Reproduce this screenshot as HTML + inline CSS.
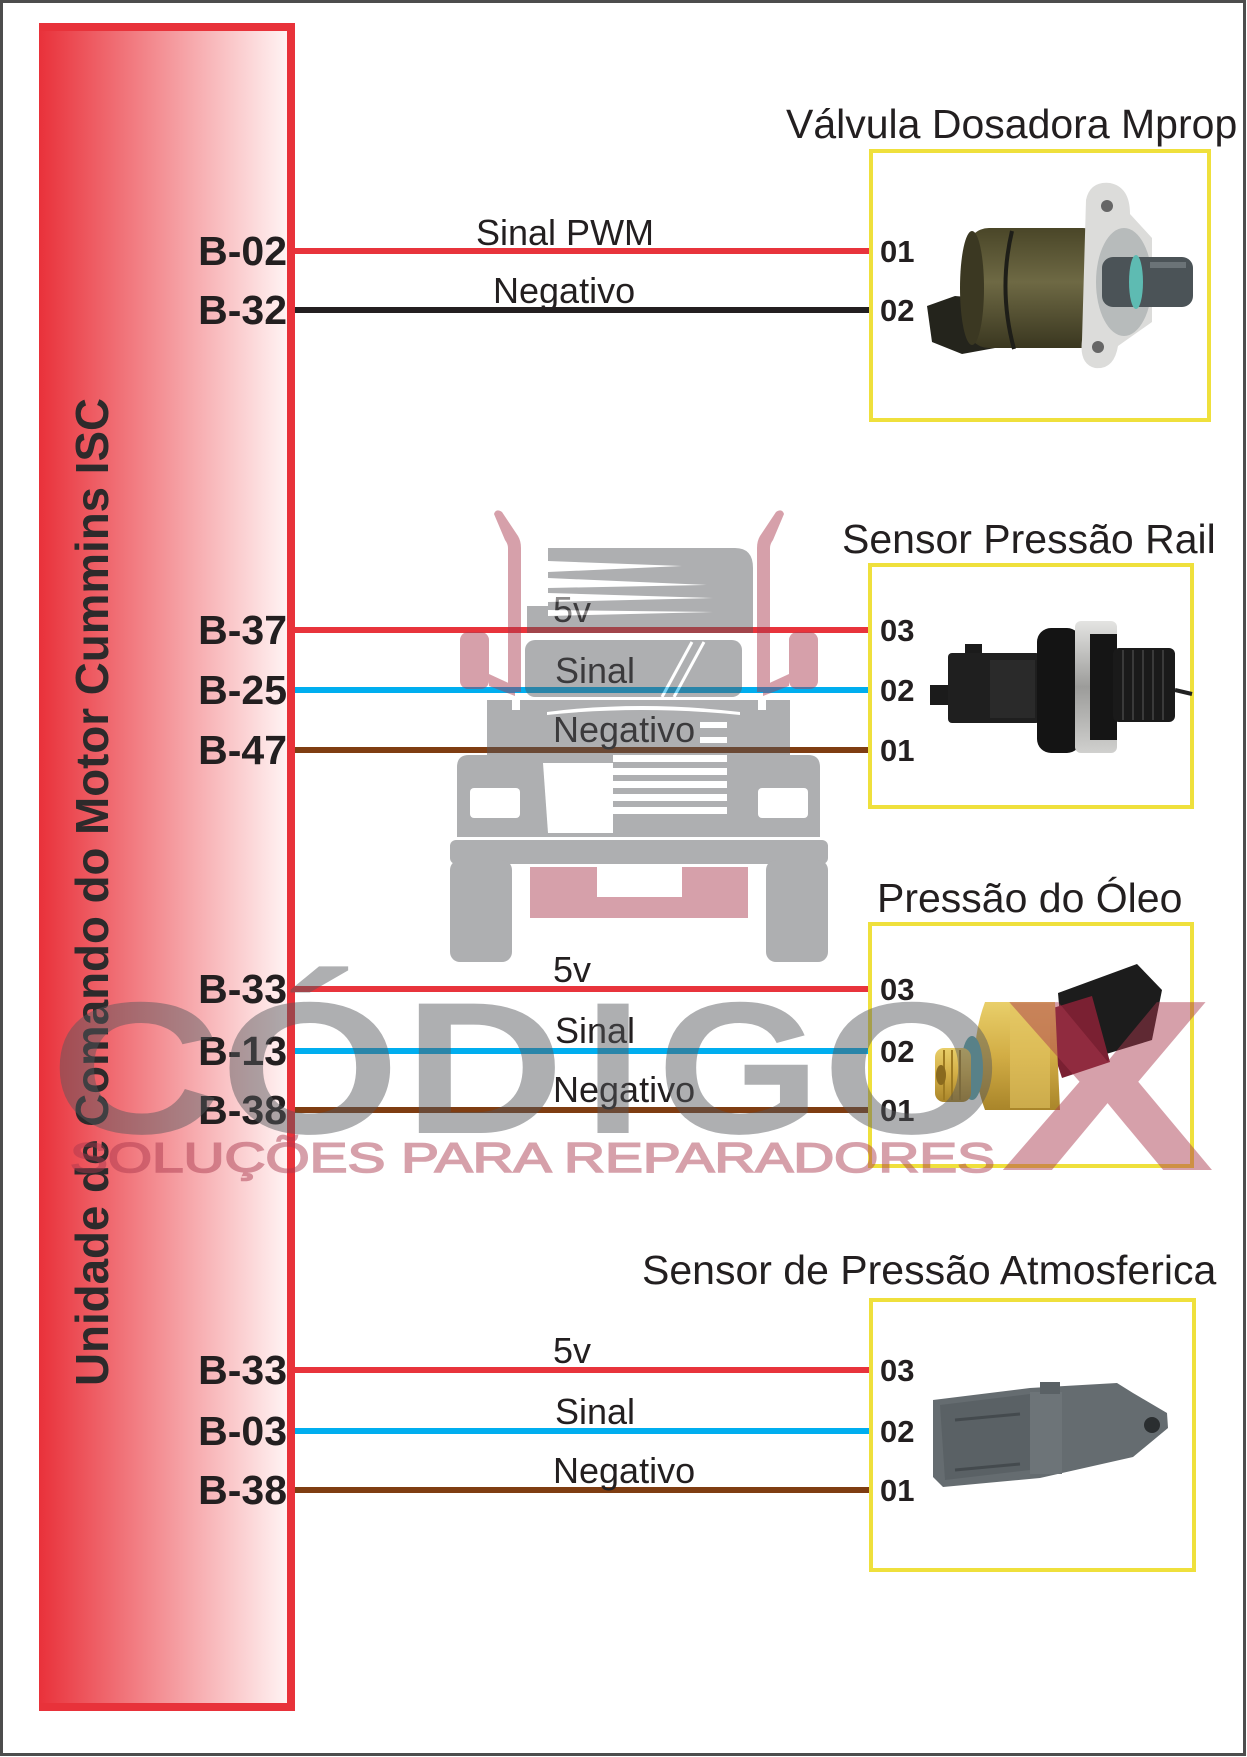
<!DOCTYPE html>
<html><head><meta charset="utf-8"><style>
html,body{margin:0;padding:0;background:#fff;}
svg{display:block;}
text{font-family:"Liberation Sans",Arial,sans-serif;}
</style></head><body>
<svg width="1247" height="1757" viewBox="0 0 1247 1757" xmlns="http://www.w3.org/2000/svg">
<defs>
<linearGradient id="ecu" x1="0" y1="0" x2="1" y2="0">
<stop offset="0" stop-color="#e9313a"/>
<stop offset="1" stop-color="#fff3f3"/>
</linearGradient>
<linearGradient id="brass" x1="0" y1="0" x2="0" y2="1">
<stop offset="0" stop-color="#e9cf6a"/>
<stop offset="0.5" stop-color="#d2ad45"/>
<stop offset="1" stop-color="#a9852a"/>
</linearGradient>
<linearGradient id="olive" x1="0" y1="0" x2="0" y2="1">
<stop offset="0" stop-color="#4a4628"/>
<stop offset="0.45" stop-color="#6e6944"/>
<stop offset="1" stop-color="#3a3720"/>
</linearGradient>
<linearGradient id="silver" x1="0" y1="0" x2="0" y2="1">
<stop offset="0" stop-color="#e4e4e2"/>
<stop offset="0.5" stop-color="#9c9c9a"/>
<stop offset="1" stop-color="#d0d0ce"/>
</linearGradient>
</defs>

<rect x="0" y="0" width="1247" height="1757" fill="#fff"/>
<rect x="1.5" y="1.5" width="1243" height="1753" fill="none" stroke="#4d4d4d" stroke-width="3"/>

<!-- ECU box -->
<rect x="39" y="23" width="256" height="1688" fill="#e8323a"/>
<rect x="39" y="31" width="248" height="1672" fill="url(#ecu)"/>
<text transform="translate(108,892) rotate(-90)" text-anchor="middle" font-size="46" font-weight="bold" fill="#2d2a2b" textLength="988" lengthAdjust="spacingAndGlyphs">Unidade de Comando do Motor Cummins ISC</text>

<!-- Wires -->
<rect x="295" y="248" width="575" height="6" fill="#e8343c"/>
<rect x="295" y="307" width="575" height="6" fill="#231f20"/>

<rect x="295" y="627" width="575" height="6" fill="#e8343c"/>
<rect x="295" y="687" width="575" height="6" fill="#00aeef"/>
<rect x="295" y="747" width="575" height="6" fill="#7f3d12"/>

<rect x="295" y="986" width="575" height="6" fill="#e8343c"/>
<rect x="295" y="1048" width="575" height="6" fill="#00aeef"/>
<rect x="295" y="1107" width="575" height="6" fill="#7f3d12"/>

<rect x="295" y="1367" width="575" height="6" fill="#e8343c"/>
<rect x="295" y="1428" width="575" height="6" fill="#00aeef"/>
<rect x="295" y="1487" width="575" height="6" fill="#7f3d12"/>

<!-- B labels -->
<g font-size="41" font-weight="bold" fill="#231f20" text-anchor="end">
<text x="287" y="265">B-02</text>
<text x="287" y="324">B-32</text>
<text x="287" y="644">B-37</text>
<text x="287" y="704">B-25</text>
<text x="287" y="764">B-47</text>
<text x="287" y="1003">B-33</text>
<text x="287" y="1065">B-13</text>
<text x="287" y="1124">B-38</text>
<text x="287" y="1384">B-33</text>
<text x="287" y="1445">B-03</text>
<text x="287" y="1504">B-38</text>
</g>

<!-- Wire labels -->
<g font-size="36" fill="#231f20">
<text x="476" y="245">Sinal PWM</text>
<text x="493" y="303">Negativo</text>
<text x="553" y="622">5v</text>
<text x="555" y="683">Sinal</text>
<text x="553" y="742">Negativo</text>
<text x="553" y="982">5v</text>
<text x="555" y="1043">Sinal</text>
<text x="553" y="1102">Negativo</text>
<text x="553" y="1363">5v</text>
<text x="555" y="1424">Sinal</text>
<text x="553" y="1483">Negativo</text>
</g>

<!-- Yellow boxes -->
<g fill="none" stroke="#efe03c" stroke-width="4">
<rect x="871" y="151" width="338" height="269"/>
<rect x="870" y="565" width="322" height="242"/>
<rect x="870" y="924" width="322" height="242"/>
<rect x="871" y="1300" width="323" height="270"/>
</g>

<!-- Pin numbers -->
<g font-size="31" font-weight="bold" fill="#231f20">
<text x="880" y="262">01</text>
<text x="880" y="321">02</text>
<text x="880" y="641">03</text>
<text x="880" y="701">02</text>
<text x="880" y="761">01</text>
<text x="880" y="1000">03</text>
<text x="880" y="1062">02</text>
<text x="880" y="1121">01</text>
<text x="880" y="1381">03</text>
<text x="880" y="1442">02</text>
<text x="880" y="1501">01</text>
</g>

<!-- Titles -->
<g font-size="41" fill="#231f20">
<text x="786" y="138">Válvula Dosadora Mprop</text>
<text x="842" y="553">Sensor Pressão Rail</text>
<text x="877" y="912">Pressão do Óleo</text>
<text x="642" y="1284">Sensor de Pressão Atmosferica</text>
</g>

<!-- Mprop valve -->
<g>
<path d="M927,306 L955,296 L1002,300 L1006,346 L962,354 L932,342 Z" fill="#24241c"/>
<rect x="967" y="228" width="138" height="120" rx="22" fill="url(#olive)"/>
<ellipse cx="972" cy="288" rx="12" ry="57" fill="#3b3822"/>
<path d="M1012,231 Q998,290 1014,349" stroke="#1e1e18" stroke-width="4" fill="none"/>
<path d="M1086,200 Q1090,181 1110,183 Q1130,187 1130,214 L1152,238 L1152,322 L1118,346 Q1114,370 1095,368 Q1079,364 1082,340 Z" fill="#dcdcda"/>
<circle cx="1107" cy="206" r="6" fill="#666"/>
<circle cx="1098" cy="347" r="6" fill="#666"/>
<ellipse cx="1124" cy="282" rx="28" ry="54" fill="#b7bbbb"/>
<rect x="1102" y="257" width="91" height="50" rx="11" fill="#4b5357"/>
<ellipse cx="1136" cy="282" rx="7" ry="27" fill="#5ebbb2"/>
<rect x="1150" y="262" width="36" height="6" fill="#6b7377"/>
</g>

<!-- Rail sensor -->
<g>
<rect x="930" y="685" width="22" height="20" fill="#1b1b1b"/>
<rect x="965" y="644" width="17" height="14" fill="#1b1b1b"/>
<rect x="948" y="653" width="92" height="70" rx="4" fill="#1f1f1f"/>
<rect x="990" y="660" width="45" height="58" fill="#2a2a2a"/>
<rect x="1037" y="628" width="44" height="125" rx="14" fill="#141414"/>
<rect x="1075" y="621" width="42" height="132" rx="6" fill="url(#silver)"/>
<rect x="1090" y="634" width="27" height="106" fill="#151515"/>
<rect x="1113" y="648" width="62" height="74" rx="6" fill="#1a1a1a"/>
<g stroke="#3a3a3a" stroke-width="2">
<line x1="1123" y1="650" x2="1123" y2="720"/>
<line x1="1133" y1="650" x2="1133" y2="720"/>
<line x1="1143" y1="650" x2="1143" y2="720"/>
<line x1="1153" y1="650" x2="1153" y2="720"/>
<line x1="1163" y1="650" x2="1163" y2="720"/>
</g>
<line x1="1175" y1="690" x2="1192" y2="694" stroke="#222" stroke-width="4"/>
</g>

<!-- Oil pressure sensor -->
<g>
<path d="M1058,993 L1137,964 L1162,990 L1152,1040 L1080,1062 L1062,1040 Z" fill="#1c1c1c"/>
<path d="M1040,1012 L1092,996 L1110,1062 L1062,1078 Z" fill="#7a2032"/>
<path d="M985,1002 L1055,1002 L1060,1110 L985,1110 Q965,1056 985,1002 Z" fill="url(#brass)"/>
<rect x="1010" y="1004" width="40" height="104" fill="#e3c463" opacity="0.6"/>
<ellipse cx="972" cy="1068" rx="11" ry="32" fill="#5aa8b0"/>
<rect x="935" y="1048" width="36" height="54" rx="9" fill="url(#brass)"/>
<g stroke="#9e7b22" stroke-width="2">
<line x1="944" y1="1050" x2="944" y2="1100"/>
<line x1="952" y1="1050" x2="952" y2="1100"/>
<line x1="960" y1="1050" x2="960" y2="1100"/>
</g>
<ellipse cx="941" cy="1075" rx="5" ry="10" fill="#8a6a1e"/>
</g>

<!-- Atmospheric sensor -->
<g>
<path d="M933,1400 L1030,1388 L1117,1383 L1133,1393 L1167,1413 L1168,1428 L1133,1457 L1040,1478 L943,1487 L933,1477 Z" fill="#656c70"/>
<path d="M940,1405 L1030,1394 L1030,1470 L945,1480 Z" fill="#5a6165"/>
<rect x="1030" y="1392" width="32" height="82" fill="#6d7478"/>
<rect x="1040" y="1382" width="20" height="12" fill="#5a6165"/>
<line x1="955" y1="1420" x2="1020" y2="1414" stroke="#444a4e" stroke-width="3"/>
<line x1="955" y1="1470" x2="1020" y2="1464" stroke="#444a4e" stroke-width="3"/>
<circle cx="1152" cy="1425" r="8" fill="#2a2e30"/>
</g>

<!-- Watermark -->
<g opacity="0.48">
  <g fill="#aa394e">
    <path d="M494,514 Q496,508 502,512 L518,536 Q521,541 521,548 L521,692 L508,692 L508,548 Q508,544 505,540 Z"/>
    <path d="M784,514 Q782,508 776,512 L760,536 Q757,541 757,548 L757,692 L770,692 L770,548 Q770,544 773,540 Z"/>
    <rect x="460" y="632" width="29" height="57" rx="8"/>
    <rect x="789" y="632" width="29" height="57" rx="8"/>
    <polygon points="489,674 515,686 515,696 489,686"/>
    <polygon points="789,674 763,686 763,696 789,686"/>
    <path d="M530,867 L597,867 L597,897 L682,897 L682,867 L748,867 L748,918 L530,918 Z"/>
  </g>
  <g fill="#56585c">
    <path d="M548,548 L735,548 Q753,548 753,568 L753,633 L527,633 L527,606 L548,606 Z"/>
    <rect x="525" y="640" width="217" height="57" rx="10"/>
    <path d="M487,700 L790,700 L790,755 L808,755 Q820,755 820,767 L820,837 L457,837 L457,767 Q457,755 469,755 L487,755 Z"/>
    <rect x="450" y="840" width="378" height="24" rx="6"/>
    <rect x="450" y="860" width="62" height="102" rx="10"/>
    <rect x="766" y="860" width="62" height="102" rx="10"/>
  </g>
  <g fill="#ffffff">
    <polygon points="548,561 682,566 548,572"/>
    <polygon points="548,578 707,585 548,588"/>
    <polygon points="548,593 713,598 548,602"/>
    <polygon points="548,610 713,612 548,616"/>
    <rect x="512" y="700" width="8" height="10"/>
    <rect x="758" y="700" width="8" height="10"/>
    <path d="M547,712 Q640,700 740,712 L740,715 Q640,705 547,715 Z"/>
    <rect x="470" y="788" width="50" height="30" rx="4"/>
    <rect x="758" y="788" width="50" height="30" rx="4"/>
    <polygon points="543,763 613,763 613,833 548,833"/>
    <rect x="613" y="755" width="114" height="7"/>
    <rect x="613" y="768" width="114" height="7"/>
    <rect x="613" y="781" width="114" height="7"/>
    <rect x="613" y="794" width="114" height="7"/>
    <rect x="613" y="807" width="114" height="7"/>
    <rect x="700" y="722" width="27" height="6"/>
    <rect x="700" y="737" width="27" height="6"/>
  </g>
  <g stroke="#ffffff" stroke-width="3">
    <line x1="662" y1="697" x2="692" y2="642"/>
    <line x1="674" y1="697" x2="704" y2="642"/>
  </g>

  <g fill="#56585c" font-weight="bold" font-size="188">
    <text transform="translate(50,1133) scale(1.26,1)">C</text>
    <text transform="translate(220,1133) scale(1.23,1)">Ó</text>
    <text transform="translate(404,1133) scale(1.18,1)">D</text>
    <text transform="translate(583,1133) scale(1.15,1)">I</text>
    <text transform="translate(657,1133) scale(1.12,1)">G</text>
    <text transform="translate(822,1133) scale(1.23,1)">O</text>
  </g>
  <text fill="#aa394e" font-weight="bold" font-size="244" transform="translate(1000,1170) scale(1.32,1)">X</text>
  <text x="70" y="1172" fill="#aa394e" stroke="#aa394e" stroke-width="1.6" font-size="42" textLength="925" lengthAdjust="spacingAndGlyphs">SOLUÇÕES PARA REPARADORES</text>
</g>
</svg>
</body></html>
